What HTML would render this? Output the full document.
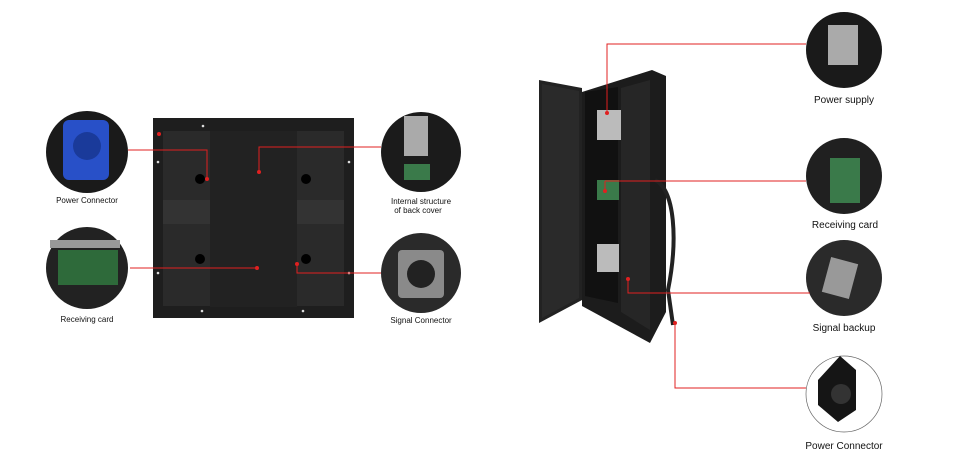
<!DOCTYPE html>
<html><head><meta charset="utf-8"><style>
body{margin:0;background:#fff;width:954px;height:476px;overflow:hidden;font-family:"Liberation Sans",sans-serif}
svg{display:block}
</style></head><body>
<svg width="954" height="476" viewBox="0 0 954 476" xmlns="http://www.w3.org/2000/svg">
<defs>
<radialGradient id="g1" cx="50%" cy="50%" r="50%"><stop offset="0" stop-color="#444"/><stop offset="1" stop-color="#111"/></radialGradient>
</defs>
<!-- Left cabinet -->
<rect x="153" y="118" width="201" height="200" fill="#1e1e1e"/>
<rect x="163" y="131" width="181" height="175" fill="#2a2a2a"/>
<rect x="163" y="200" width="181" height="24" fill="#333"/>
<rect x="210" y="131" width="87" height="176" fill="#222"/>
<g fill="#000">
<circle cx="200" cy="179" r="5"/><circle cx="306" cy="179" r="5"/>
<circle cx="200" cy="259" r="5"/><circle cx="306" cy="259" r="5"/>
</g>
<g fill="#ddd">
<circle cx="203" cy="126" r="1.3"/><circle cx="202" cy="311" r="1.3"/><circle cx="303" cy="311" r="1.3"/>
<circle cx="158" cy="162" r="1.3"/><circle cx="158" cy="273" r="1.3"/><circle cx="349" cy="162" r="1.3"/><circle cx="349" cy="273" r="1.3"/>
</g>
<!-- left circles -->
<circle cx="87" cy="152" r="41" fill="#1a1a1a"/>
<rect x="63" y="120" width="46" height="60" rx="6" fill="#2850c8"/>
<circle cx="87" cy="146" r="14" fill="#1a3a9a"/>
<circle cx="87" cy="268" r="41" fill="#222"/>
<rect x="58" y="250" width="60" height="35" fill="#2e6a3a"/>
<rect x="50" y="240" width="70" height="8" fill="#999"/>
<circle cx="421" cy="152" r="40" fill="#1b1b1b"/>
<rect x="404" y="116" width="24" height="40" fill="#aaa"/>
<rect x="404" y="164" width="26" height="16" fill="#3a7a4a"/>
<circle cx="421" cy="273" r="40" fill="#2a2a2a"/>
<rect x="398" y="250" width="46" height="48" rx="4" fill="#8a8a8a"/>
<circle cx="421" cy="274" r="14" fill="#222"/>
<!-- left connectors -->
<g stroke="#e02020" stroke-width="1" fill="none">
<polyline points="128,150 207,150 207,179"/>
<polyline points="381,147 259,147 259,172"/>
<polyline points="130,268 257,268"/>
<polyline points="381,273 297,273 297,264"/>
</g>
<g fill="#e02020">
<circle cx="207" cy="179" r="2"/><circle cx="259" cy="172" r="2"/><circle cx="257" cy="268" r="2"/><circle cx="297" cy="264" r="2"/><circle cx="159" cy="134" r="2"/>
</g>
<g font-size="8" fill="#111" text-anchor="middle">
<text x="87" y="203">Power Connector</text>
<text x="87" y="322">Receiving card</text>
<text x="421" y="204">Internal structure</text>
<text x="418" y="213">of back cover</text>
<text x="421" y="323">Signal Connector</text>
</g>
<!-- Right cabinet -->
<polygon points="582,92 652,70 666,76 666,312 650,343 582,306" fill="#1c1c1c"/>
<polygon points="585,92 618,87 618,303 585,296" fill="#111"/>
<polygon points="621,88 650,80 650,330 621,312" fill="#262626"/>
<rect x="597" y="110" width="24" height="30" fill="#bbb"/>
<rect x="597" y="180" width="22" height="20" fill="#3a7a4a"/>
<rect x="597" y="244" width="22" height="28" fill="#bbb"/>
<polygon points="539,80 582,88 582,300 539,323" fill="#222"/>
<polygon points="542,84 579,91 579,298 542,318" fill="#2a2a2a"/>
<path d="M655,180 C675,190 678,240 668,290 L673,325" stroke="#222" stroke-width="4" fill="none"/>
<!-- right circles -->
<circle cx="844" cy="50" r="38" fill="#1a1a1a"/>
<rect x="828" y="25" width="30" height="40" fill="#aaa"/>
<circle cx="844" cy="176" r="38" fill="#202020"/>
<rect x="830" y="158" width="30" height="45" fill="#3a7a4a"/>
<circle cx="844" cy="278" r="38" fill="#2a2a2a"/>
<rect x="826" y="260" width="28" height="36" fill="#999" transform="rotate(15 840 278)"/>
<circle cx="844" cy="394" r="38" fill="#fff" stroke="#666" stroke-width="0.7"/>
<path d="M818,380 L840,356 L856,370 L856,410 L838,422 L818,405 Z" fill="#151515"/>
<circle cx="841" cy="394" r="10" fill="#333"/>
<g stroke="#e02020" stroke-width="1" fill="none">
<polyline points="806,44 607,44 607,113"/>
<polyline points="806,181 605,181"/>
<polyline points="810,293 628,293 628,279"/>
<polyline points="806,388 675,388 675,323"/>
</g>
<g fill="#e02020">
<circle cx="607" cy="113" r="2"/><circle cx="605" cy="191" r="2"/><circle cx="628" cy="279" r="2"/><circle cx="675" cy="323" r="2"/>
</g>
<line x1="605" y1="181" x2="605" y2="191" stroke="#e02020" stroke-width="1"/>
<g font-size="10" fill="#111" text-anchor="middle">
<text x="844" y="103">Power supply</text>
<text x="845" y="228">Receiving card</text>
<text x="844" y="331">Signal backup</text>
<text x="844" y="449">Power Connector</text>
</g>
</svg>
</body></html>
